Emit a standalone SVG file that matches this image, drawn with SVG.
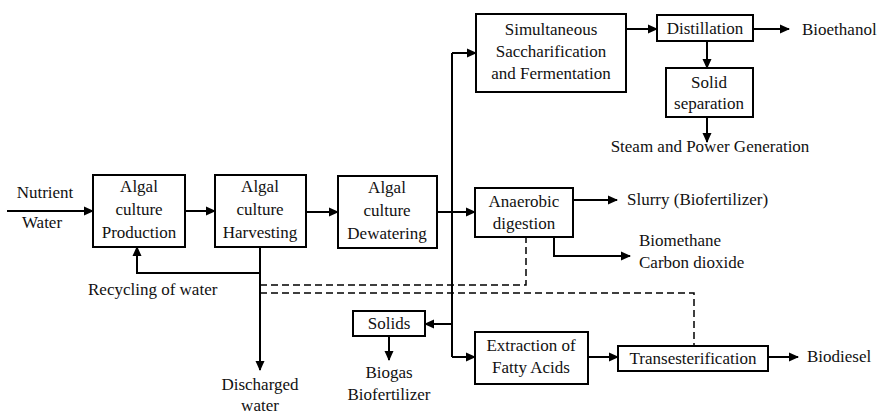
<svg xmlns="http://www.w3.org/2000/svg" width="880" height="414" viewBox="0 0 880 414">
<defs>
<marker id="ah" markerWidth="10" markerHeight="10" refX="9" refY="5" orient="auto" markerUnits="userSpaceOnUse">
<path d="M0,0.5 L10,5 L0,9.5 z" fill="#000"/>
</marker>
<style>
rect.b{fill:#fff;stroke:#000;stroke-width:2}
text{font-family:'Liberation Serif','Times New Roman',serif;font-size:17px;fill:#111}
.c{text-anchor:middle}
.ln{fill:none;stroke:#000;stroke-width:2}
.ar{fill:none;stroke:#000;stroke-width:2;marker-end:url(#ah)}
.d{fill:none;stroke:#000;stroke-width:1.5;stroke-dasharray:7,4}
</style>
</defs>
<rect width="880" height="414" fill="#fff"/>
<g id="connectors">
<path class="ar" d="M7,211 H93"/>
<path class="ar" d="M185,211 H215"/>
<path class="ar" d="M306,212 H338"/>
<path class="ar" d="M437,212 H475"/>
<path class="ln" d="M452,53 V357"/>
<path class="ar" d="M452,53 H476"/>
<path class="ar" d="M452,324 H425"/>
<path class="ar" d="M452,357 H475"/>
<path class="ar" d="M626,29 H657"/>
<path class="ar" d="M753,29 H789"/>
<path class="ar" d="M707,41 V68"/>
<path class="ar" d="M707,117 V142"/>
<path class="ar" d="M573,200 H617"/>
<path class="ar" d="M554,237 V256 H630"/>
<path class="ar" d="M260,247 V370"/>
<path class="ar" d="M260,273 H137 V247"/>
<path class="ar" d="M389,336 V360"/>
<path class="ar" d="M588,357 H618"/>
<path class="ar" d="M768,357 H798"/>
<path class="d" d="M260,285 H526 V237"/>
<path class="d" d="M260,293 H694 V346"/>
</g>
<g id="production">
<rect class="b" x="93" y="175" width="92" height="72"/>
<text class="c" x="139" y="192">Algal</text>
<text class="c" x="139" y="215">culture</text>
<text class="c" x="139" y="238">Production</text>
</g>
<g id="harvesting">
<rect class="b" x="215" y="175" width="91" height="72"/>
<text class="c" x="260" y="192">Algal</text>
<text class="c" x="260" y="215">culture</text>
<text class="c" x="260" y="238">Harvesting</text>
</g>
<g id="dewatering">
<rect class="b" x="338" y="176" width="99" height="72"/>
<text class="c" x="387" y="193">Algal</text>
<text class="c" x="387" y="216">culture</text>
<text class="c" x="387" y="239">Dewatering</text>
</g>
<g id="ssf">
<rect class="b" x="476" y="14" width="150" height="78"/>
<text class="c" x="551" y="35">Simultaneous</text>
<text class="c" x="551" y="57">Saccharification</text>
<text class="c" x="551" y="79">and Fermentation</text>
</g>
<g id="distillation">
<rect class="b" x="657" y="15" width="96" height="26"/>
<text class="c" x="705" y="34">Distillation</text>
</g>
<g id="solid-separation">
<rect class="b" x="666" y="68" width="87" height="49"/>
<text class="c" x="709" y="88">Solid</text>
<text class="c" x="709" y="109">separation</text>
</g>
<g id="anaerobic">
<rect class="b" x="475" y="188" width="98" height="49"/>
<text class="c" x="524" y="207">Anaerobic</text>
<text class="c" x="524" y="229">digestion</text>
</g>
<g id="solids">
<rect class="b" x="353" y="311" width="72" height="25"/>
<text class="c" x="389" y="329">Solids</text>
</g>
<g id="extraction">
<rect class="b" x="475" y="332" width="113" height="52"/>
<text class="c" x="531" y="351">Extraction of</text>
<text class="c" x="531" y="373">Fatty Acids</text>
</g>
<g id="transesterification">
<rect class="b" x="618" y="346" width="150" height="25"/>
<text class="c" x="693" y="364">Transesterification</text>
</g>
<g id="labels">
<text class="c" x="45" y="198">Nutrient</text>
<text class="c" x="42" y="228">Water</text>
<text x="802" y="35">Bioethanol</text>
<text class="c" x="710" y="152">Steam and Power Generation</text>
<text x="627" y="205">Slurry (Biofertilizer)</text>
<text x="639" y="246">Biomethane</text>
<text x="639" y="268">Carbon dioxide</text>
<text x="88" y="295">Recycling of water</text>
<text class="c" x="260" y="390">Discharged</text>
<text class="c" x="260" y="411">water</text>
<text class="c" x="389" y="378">Biogas</text>
<text class="c" x="389" y="400">Biofertilizer</text>
<text x="807" y="362">Biodiesel</text>
</g>
</svg>
